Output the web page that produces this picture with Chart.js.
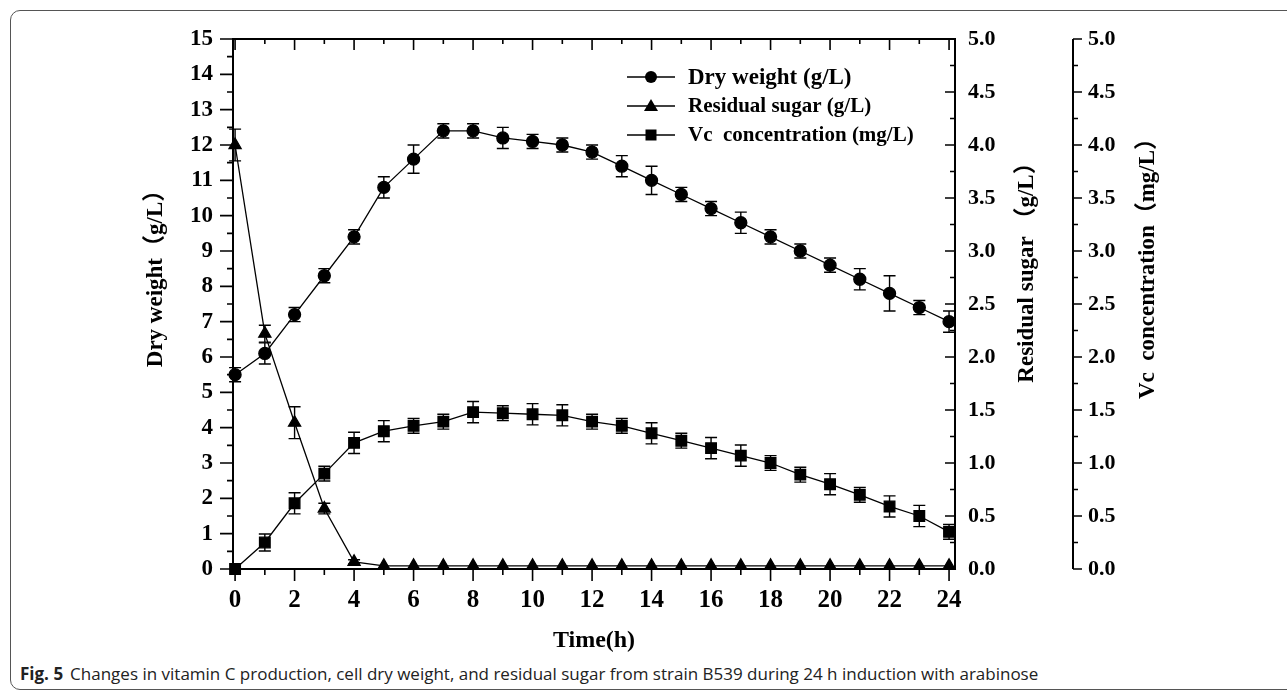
<!DOCTYPE html>
<html>
<head>
<meta charset="utf-8">
<script src="https://cdn.jsdelivr.net/npm/chart.js@4.4.1/dist/chart.umd.min.js"></script>
<style>
  body { margin: 0; background: #fff; width: 1287px; height: 693px; overflow: hidden; position: relative; }
  .frame { position: absolute; left: 10px; top: 10px; width: 1300px; height: 680px; border: 1px solid #555; border-radius: 10px; box-sizing: border-box; }
  #chart { position: absolute; left: 0; top: 0; }
  .caption { position: absolute; left: 20px; top: 662px; font-family: "Open Sans", sans-serif; font-size: 17px; color: #222; white-space: nowrap; letter-spacing: 0px; }
  .caption b { font-weight: 700; margin-right: 7px; }
</style>
</head>
<body>
<div class="frame"></div>
<canvas id="chart" width="1287" height="660"></canvas>
<div class="caption"><b>Fig. 5</b>Changes in vitamin C production, cell dry weight, and residual sugar from strain B539 during 24 h induction with arabinose</div>
<script>
const timeH = [0, 1, 2, 3, 4, 5, 6, 7, 8, 9, 10, 11, 12, 13, 14, 15, 16, 17, 18, 19, 20, 21, 22, 23, 24];

const dryWeight = [5.5, 6.1, 7.2, 8.3, 9.4, 10.8, 11.6, 12.4, 12.4, 12.2, 12.1, 12.0, 11.8, 11.4, 11.0, 10.6, 10.2, 9.8, 9.4, 9.0, 8.6, 8.2, 7.8, 7.4, 7.0];
const dryWeightErr = [0.2, 0.3, 0.2, 0.2, 0.2, 0.3, 0.4, 0.2, 0.2, 0.3, 0.2, 0.2, 0.2, 0.3, 0.4, 0.2, 0.2, 0.3, 0.2, 0.2, 0.2, 0.3, 0.5, 0.2, 0.3];

const residualSugar = [4.0, 2.22, 1.38, 0.57, 0.067, 0.03, 0.03, 0.03, 0.03, 0.03, 0.03, 0.03, 0.03, 0.03, 0.03, 0.03, 0.03, 0.03, 0.03, 0.03, 0.03, 0.03, 0.03, 0.03, 0.03];
const residualSugarErr = [0.15, 0.08, 0.15, 0.05, 0.02, 0, 0, 0, 0, 0, 0, 0, 0, 0, 0, 0, 0, 0, 0, 0, 0, 0, 0, 0, 0];

const vcConc = [0, 0.25, 0.62, 0.9, 1.19, 1.3, 1.35, 1.39, 1.48, 1.47, 1.46, 1.45, 1.39, 1.35, 1.28, 1.21, 1.14, 1.07, 1.0, 0.89, 0.8, 0.7, 0.59, 0.5, 0.35];
const vcConcErr = [0, 0.08, 0.1, 0.07, 0.1, 0.1, 0.07, 0.07, 0.1, 0.07, 0.1, 0.1, 0.07, 0.07, 0.1, 0.07, 0.1, 0.1, 0.07, 0.07, 0.1, 0.07, 0.1, 0.1, 0.07];

const xTicks = [0, 2, 4, 6, 8, 10, 12, 14, 16, 18, 20, 22, 24];
const leftTicks = [0, 1, 2, 3, 4, 5, 6, 7, 8, 9, 10, 11, 12, 13, 14, 15];
const rightTicks = [0, 0.5, 1.0, 1.5, 2.0, 2.5, 3.0, 3.5, 4.0, 4.5, 5.0];

const serif = '"Liberation Serif", "Times New Roman", "Noto Sans CJK SC", serif';
const legendItems = [
  { label: "Dry weight (g/L)", style: "circle", size: 23 },
  { label: "Residual sugar (g/L)", style: "triangle", size: 21 },
  { label: "Vc  concentration (mg/L)", style: "rect", size: 21 }
];

function toPoints(values) {
  return timeH.map((t, i) => ({ x: t, y: values[i] }));
}

function setTicks(values) {
  return (scale) => { scale.ticks = values.map((v) => ({ value: v })); };
}

// ticks, box, error bars, right titles and legend
const decorations = {
  id: "decorations",
  beforeDatasetsDraw(chart) {
    const ctx = chart.ctx;
    const xs = chart.scales.x;
    ctx.save();
    ctx.strokeStyle = "#000";
    ctx.lineWidth = 1.4;
    chart.data.datasets.forEach((ds) => {
      const ys = chart.scales[ds.yAxisID];
      ds.err.forEach((e, i) => {
        if (!e) return;
        const px = xs.getPixelForValue(timeH[i]);
        const top = ys.getPixelForValue(ds.data[i].y + e);
        const bot = ys.getPixelForValue(ds.data[i].y - e);
        ctx.beginPath();
        ctx.moveTo(px, top); ctx.lineTo(px, bot);
        ctx.moveTo(px - 6, top); ctx.lineTo(px + 6, top);
        ctx.moveTo(px - 6, bot); ctx.lineTo(px + 6, bot);
        ctx.stroke();
      });
    });
    ctx.restore();
  },
  afterDraw(chart) {
    const ctx = chart.ctx;
    const { left, right, top, bottom } = chart.chartArea;
    const xs = chart.scales.x, y1 = chart.scales.y, y2 = chart.scales.ySugar, y3 = chart.scales.yVc;
    ctx.save();
    ctx.strokeStyle = "#000";
    ctx.lineWidth = 2;
    ctx.strokeRect(left, top, right - left, bottom - top);

    ctx.lineWidth = 1.6;
    ctx.beginPath();
    for (let v = 0; v <= 24; v++) {
      const px = xs.getPixelForValue(v);
      const major = v % 2 === 0;
      ctx.moveTo(px, bottom); ctx.lineTo(px, bottom + (major ? 12 : 6));
      ctx.moveTo(px, top); ctx.lineTo(px, top + (major ? 11 : 5));
    }
    for (let v = 0; v <= 15; v += 0.5) {
      const py = y1.getPixelForValue(v);
      ctx.moveTo(left, py); ctx.lineTo(left - (v % 1 === 0 ? 13 : 6), py);
    }
    for (let v = 0; v <= 5; v += 0.25) {
      const major = Math.abs(v * 2 - Math.round(v * 2)) < 1e-6;
      const py = y2.getPixelForValue(v);
      ctx.moveTo(right, py); ctx.lineTo(right - (major ? 10 : 5), py);
      const py3 = y3.getPixelForValue(v);
      ctx.moveTo(y3.left, py3); ctx.lineTo(y3.left + (major ? 9 : 5), py3);
    }
    ctx.stroke();
    ctx.lineWidth = 2;
    ctx.beginPath();
    ctx.moveTo(y3.left, y3.getPixelForValue(0));
    ctx.lineTo(y3.left, y3.getPixelForValue(5));
    ctx.stroke();

    // vertical axis titles, read bottom to top
    ctx.fillStyle = "#000";
    ctx.textAlign = "center";
    ctx.textBaseline = "middle";
    ctx.font = "bold 23px " + serif;
    [["Dry weight（g/L）", 156, 273], ["Residual sugar （g/L）", 1027, 267], ["Vc  concentration（mg/L）", 1148, 263]].forEach(([t, x, y]) => {
      ctx.save();
      ctx.translate(x, y);
      ctx.rotate(-Math.PI / 2);
      ctx.fillText(t, 0, 0);
      ctx.restore();
    });

    // legend
    const rows = [77, 106, 135];
    legendItems.forEach((it, i) => {
      const y = rows[i];
      ctx.lineWidth = 1.4;
      ctx.beginPath();
      ctx.moveTo(627, y); ctx.lineTo(675, y);
      ctx.stroke();
      ctx.beginPath();
      if (it.style === "circle") ctx.arc(651, y, 6, 0, Math.PI * 2);
      if (it.style === "triangle") { ctx.moveTo(651, y - 7); ctx.lineTo(658, y + 5); ctx.lineTo(644, y + 5); ctx.closePath(); }
      if (it.style === "rect") ctx.rect(645.5, y - 5.5, 11, 11);
      ctx.fill();
      ctx.font = "bold " + it.size + "px " + serif;
      ctx.textAlign = "left";
      ctx.fillText(it.label, 688, y + 1);
    });
    ctx.restore();
  }
};

const common = { borderColor: "#000", backgroundColor: "#000", borderWidth: 1.3, pointBackgroundColor: "#000", pointBorderColor: "#000", tension: 0, clip: false };

new Chart(document.getElementById("chart"), {
  type: "line",
  data: {
    datasets: [
      { ...common, label: "Dry weight (g/L)", data: toPoints(dryWeight), err: dryWeightErr, yAxisID: "y", pointStyle: "circle", pointRadius: 6 },
      { ...common, label: "Residual sugar (g/L)", data: toPoints(residualSugar), err: residualSugarErr, yAxisID: "ySugar", pointStyle: "triangle", pointRadius: 7 },
      { ...common, label: "Vc concentration (mg/L)", data: toPoints(vcConc), err: vcConcErr, yAxisID: "yVc", pointStyle: "rect", pointRadius: 7.5 }
    ]
  },
  options: {
    responsive: false,
    animation: false,
    devicePixelRatio: 1,
    layout: { padding: { left: 20, right: 100, top: 39, bottom: 0 } },
    plugins: { legend: { display: false }, tooltip: { enabled: false } },
    scales: {
      x: {
        type: "linear", position: "bottom", min: -0.07, max: 24.2,
        afterBuildTicks: setTicks(xTicks),
        afterFit: (s) => { s.height = 91; },
        grid: { display: false, drawTicks: false }, border: { display: false },
        ticks: { color: "#000", padding: 17, maxRotation: 0, font: { family: serif, size: 25, weight: "bold" } },
        title: { display: true, text: "Time(h)", color: "#000", padding: { top: 0, bottom: 5 }, font: { family: serif, size: 24, weight: "bold" } }
      },
      y: {
        position: "left", min: 0, max: 15,
        afterBuildTicks: setTicks(leftTicks),
        afterFit: (s) => { s.width = 213; },
        grid: { display: false, drawTicks: false }, border: { display: false },
        ticks: { color: "#000", padding: 20, font: { family: serif, size: 23, weight: "bold" } }
      },
      ySugar: {
        position: "right", min: 0, max: 5,
        afterBuildTicks: setTicks(rightTicks),
        afterFit: (s) => { s.width = 118; },
        grid: { display: false, drawTicks: false }, border: { display: false },
        ticks: { color: "#000", padding: 13, callback: (v) => Number(v).toFixed(1), font: { family: serif, size: 22, weight: "bold" } }
      },
      yVc: {
        position: "right", min: 0, max: 5,
        afterBuildTicks: setTicks(rightTicks),
        afterFit: (s) => { s.width = 114; },
        grid: { display: false, drawTicks: false }, border: { display: false },
        ticks: { color: "#000", padding: 15, callback: (v) => Number(v).toFixed(1), font: { family: serif, size: 22, weight: "bold" } }
      }
    }
  },
  plugins: [decorations]
});
</script>
</body>
</html>
